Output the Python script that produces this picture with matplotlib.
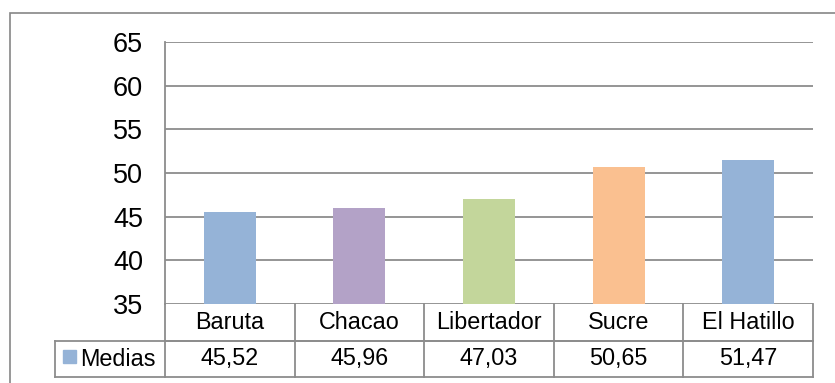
import matplotlib
matplotlib.use("Agg")
import matplotlib.pyplot as plt
from matplotlib.patches import Rectangle
from matplotlib.transforms import blended_transform_factory

plt.rcParams['font.family'] = ['Liberation Sans', 'DejaVu Sans']

categories = ["Baruta", "Chacao", "Libertador", "Sucre", "El Hatillo"]
medias = [45.52, 45.96, 47.03, 50.65, 51.47]
value_labels = ["45,52", "45,96", "47,03", "50,65", "51,47"]
series_name = "Medias"
bar_colors = ["#95B3D7", "#B3A2C7", "#C3D69B", "#FAC090", "#95B3D7"]
yticks = [35, 40, 45, 50, 55, 60, 65]

W, H = 835, 383
fig = plt.figure(figsize=(W / 100, H / 100), dpi=100)
fig.patch.set_facecolor("white")

# outer chart frame
fig.patches.append(Rectangle((10 / W, 1 - 390 / H), 830 / W, 377 / H,
                             transform=fig.transFigure, fill=False,
                             edgecolor="#868686", lw=1.2, clip_on=False))

left, right, top, bottom = 165, 813, 42, 304
ax = fig.add_axes([left / W, 1 - bottom / H, (right - left) / W, (bottom - top) / H])

grid_c = "#8C8C8C"
x = list(range(len(categories)))
ax.bar(x, [m - yticks[0] for m in medias], bottom=yticks[0], width=0.4,
       color=bar_colors, zorder=3)
ax.set_xlim(-0.5, len(categories) - 0.5)
ax.set_ylim(yticks[0], yticks[-1])
ax.set_yticks(yticks)
ax.set_yticklabels([str(t) for t in yticks], fontsize=19.5)
ax.tick_params(axis="y", length=0, pad=15.8)
ax.tick_params(axis="x", length=0, labelbottom=False)
for t in yticks:
    ax.axhline(t, color=grid_c, lw=1.3, zorder=1)
for s in ["top", "right", "bottom"]:
    ax.spines[s].set_visible(False)
ax.spines["left"].set_color(grid_c)
ax.spines["left"].set_linewidth(1.3)

# data table below the axis
ph = bottom - top
r1 = -(341 - bottom) / ph
r2 = -(377 - bottom) / ph
leg_x = (55 - left) / (right - left)
lk = dict(color=grid_c, lw=1.3, transform=ax.transAxes, clip_on=False)
ax.plot([0, 0], [0, r2], **lk)
ax.plot([0, 1], [r1, r1], **lk)
ax.plot([leg_x, 1], [r1, r1], **lk)
ax.plot([leg_x, 1], [r2, r2], **lk)
ax.plot([leg_x, leg_x], [r1, r2], **lk)
n = len(categories)
for i in range(1, n + 1):
    ax.plot([i / n, i / n], [0, r2], **lk)

bt = blended_transform_factory(ax.transData, ax.transAxes)
fs = 16.8
for i, (c, v) in enumerate(zip(categories, value_labels)):
    ax.text(i, r1 / 2, c, ha="center", va="center", fontsize=fs, transform=bt)
    ax.text(i, (r1 + r2) / 2, v, ha="center", va="center", fontsize=fs, transform=bt)

# legend key and series name
key = 13
ax.add_patch(Rectangle(((63 - left) / (right - left), -(363 - bottom) / ph),
                       key / (right - left), key / ph, transform=ax.transAxes,
                       color=bar_colors[0], clip_on=False))
ax.text((80 - left) / (right - left), (r1 + r2) / 2, series_name, ha="left",
        va="center", fontsize=fs, transform=ax.transAxes)

fig.savefig("out.png", dpi=100)
